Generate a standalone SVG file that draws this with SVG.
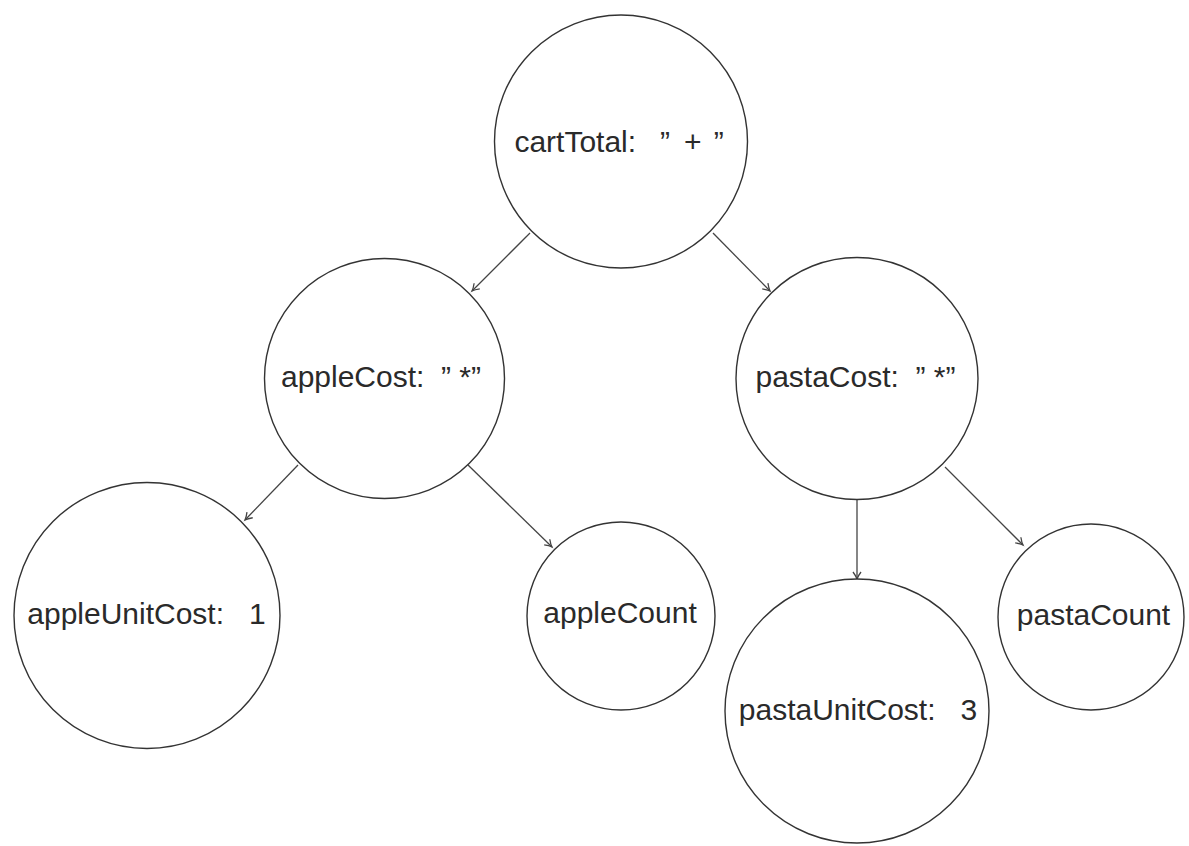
<svg xmlns="http://www.w3.org/2000/svg" width="1189" height="846" viewBox="0 0 1189 846">
<style>
.node circle{fill:#fff;stroke:#333;stroke-width:1.4}
.node text{font-family:"Liberation Sans",Arial,sans-serif;font-size:30px;fill:#2a2a2a;text-anchor:middle;white-space:pre}
.edge{stroke:#444;stroke-width:1.3;fill:none;marker-end:url(#arr)}
</style>
<defs>
<marker id="arr" markerUnits="userSpaceOnUse" markerWidth="14" markerHeight="14" viewBox="-10 -7 14 14" refX="0" refY="0" orient="auto">
<path d="M-7,-4 Q-3,-1 0,0 Q-3,1 -7,4" fill="none" stroke="#444" stroke-width="1.3"/>
</marker>
</defs>
<rect width="1189" height="846" fill="#fff"/>
<g id="connectors">
<line class="edge" x1="530" y1="233" x2="472" y2="291"/>
<line class="edge" x1="713" y1="233" x2="770" y2="291"/>
<line class="edge" x1="298" y1="465" x2="245" y2="520"/>
<line class="edge" x1="468" y1="465" x2="552" y2="547"/>
<line class="edge" x1="857" y1="499" x2="857" y2="579"/>
<line class="edge" x1="945" y1="467" x2="1023" y2="545"/>
</g>
<g id="cartTotal" class="node"><circle cx="621" cy="141.5" r="126.5"/><text x="619" y="152">cartTotal:<tspan dx="24">”</tspan><tspan dx="14">+</tspan><tspan dx="12">”</tspan></text></g>
<g id="appleCost" class="node"><circle cx="384.5" cy="378.5" r="120"/><text x="381" y="387" xml:space="preserve">appleCost:  ” *”</text></g>
<g id="pastaCost" class="node"><circle cx="857" cy="378.5" r="121"/><text x="855.5" y="387" xml:space="preserve">pastaCost:  ” *”</text></g>
<g id="appleUnitCost" class="node"><circle cx="147" cy="615.5" r="133"/><text x="146.5" y="624" xml:space="preserve">appleUnitCost:   1</text></g>
<g id="appleCount" class="node"><circle cx="621" cy="616" r="94"/><text x="620" y="623">appleCount</text></g>
<g id="pastaUnitCost" class="node"><circle cx="857" cy="711" r="132"/><text x="858" y="720" xml:space="preserve">pastaUnitCost:   3</text></g>
<g id="pastaCount" class="node"><circle cx="1091" cy="617" r="93"/><text x="1093.5" y="625">pastaCount</text></g>
</svg>
